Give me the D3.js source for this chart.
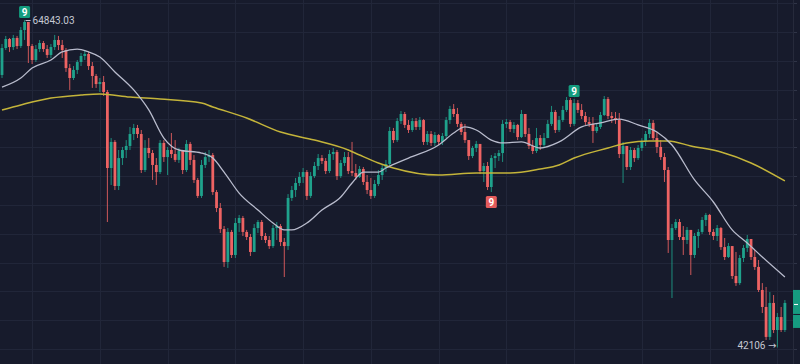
<!DOCTYPE html>
<html>
<head>
<meta charset="utf-8">
<script src="https://cdn.jsdelivr.net/npm/d3@7/dist/d3.min.js"></script>
<style>
  html, body { margin: 0; padding: 0; background: #171b2c; }
  svg { display: block; }
</style>
</head>
<body>
<svg id="chart" width="800" height="364"></svg>
<script>
// candle data (open of each candle = previous close)
let firstOpen = 61030;
let closes = [
  62900, 63530, 62970, 63600, 63040, 64150, 64710, 63040, 62070, 62830,
  63250, 62830, 62420, 62970, 63460, 63110, 62760, 61510, 60820, 61380,
  61930, 62350, 62490, 61650, 60960, 60400, 60540, 59850, 54570, 56380,
  53320, 55260, 55820, 56100, 56930, 57350, 56930, 54430, 55960, 55610,
  54780, 54290, 56310, 55330, 55820, 55540, 55130, 55750, 54430, 56240,
  55130, 53740, 52630, 54780, 55330, 55470, 52900, 51790, 50330, 48040,
  50130, 48530, 50750, 51100, 50130, 49780, 48740, 50400, 50820, 49850,
  49570, 49150, 50400, 50540, 49430, 49150, 52490, 53040, 53530, 53950,
  54290, 52630, 54010, 54710, 55260, 55060, 54360, 55540, 55680, 54010,
  54920, 55330, 54360, 54220, 53950, 54500, 53600, 53040, 52630, 53460,
  54080, 54570, 54850, 57140, 56510, 57830, 58320, 57560, 57210, 57830,
  57420, 57900, 56380, 56930, 56310, 56860, 56380, 56790, 57900, 58670,
  58320, 57630, 57070, 56510, 55400, 55960, 56240, 54360, 54710, 53250,
  55260, 55400, 55610, 57630, 57760, 57280, 57560, 56720, 58320, 56930,
  56100, 55750, 56650, 56170, 56650, 57630, 58460, 57210, 57900, 58600,
  59290, 57630, 59080, 58600, 58180, 57760, 57630, 57140, 57420, 58250,
  59360, 58180, 58040, 57900, 55540, 56100, 54640, 55820, 55260, 55960,
  56450, 56930, 57700, 56650, 56030, 55330, 54430, 49570, 50400, 50820,
  49780, 49570, 50270, 48530, 49850, 50130, 50960, 51310, 50130, 49850,
  50400, 49080, 48390, 49150, 47070, 46580, 48320, 49020, 49640, 48390,
  47700, 46100, 44920, 42840, 45200, 43320, 44220, 43320, 45200
];
let highs = [
  63180, 63740, 63600, 63810, 63740, 64360, 64843.03, 64570, 63180, 63110,
  63460, 63390, 63110, 63180, 63810, 63740, 63460, 62900, 61790, 61650,
  62070, 62560, 62760, 62630, 61930, 61100, 60820, 60960, 59990, 56650,
  56510, 55820, 56030, 56510, 57420, 57630, 57560, 57210, 56510, 56650,
  55820, 55260, 56510, 56510, 56030, 57000, 56510, 55960, 55680, 56510,
  56380, 55470, 53880, 55130, 55680, 55820, 55610, 53040, 52140, 50540,
  50400, 50270, 51100, 51310, 51240, 50270, 49990, 50680, 50960, 50960,
  50060, 49850, 50610, 50820, 50680, 49710, 52760, 53320, 53880, 54290,
  54570, 54430, 54290, 54990, 55540, 55470, 55260, 55820, 55960, 55820,
  55130, 55680, 55680, 56380, 54850, 54710, 54640, 54080, 53880, 53740,
  54430, 54780, 55130, 57420, 57350, 58040, 58530, 58460, 57900, 58040,
  58040, 58110, 57970, 57140, 57140, 57070, 56930, 57000, 58110, 58880,
  59010, 58740, 57760, 57630, 56510, 56100, 56450, 56240, 54920, 54990,
  55470, 55610, 55820, 57900, 57970, 57900, 57760, 57630, 58600, 58320,
  57350, 56510, 57350, 56860, 57000, 57900, 58880, 58600, 58180, 58880,
  59500, 59430, 59360, 59290, 59010, 58460, 58110, 58110, 57630, 58460,
  59570, 59500, 58460, 58460, 58390, 56380, 56100, 56030, 55960, 56170,
  56650, 57140, 57970, 57900, 57070, 56510, 55610, 54640, 50680, 51030,
  51030, 50540, 50470, 50130, 50060, 50330, 51170, 51450, 51380, 50330,
  50610, 50470, 49710, 49360, 49150, 48740, 48530, 49220, 49920, 49570,
  48880, 48180, 46580, 46310, 45960, 45750, 44500, 44920, 45400
];
let lows = [
  60820, 62760, 62630, 62760, 62830, 62900, 63460, 61860, 61790, 61930,
  62630, 62630, 62210, 62210, 62760, 62760, 62210, 61240, 59990, 60680,
  61100, 61650, 62070, 61380, 60130, 60130, 59850, 59570, 50820, 53390,
  53040, 53040, 54780, 55260, 55820, 56510, 56650, 54220, 54290, 55260,
  53740, 53390, 54150, 54990, 54080, 55260, 54990, 54920, 54150, 54290,
  54780, 53530, 52490, 52490, 54570, 54990, 52700, 51510, 50060, 47700,
  47630, 48320, 48320, 50130, 49850, 49570, 48460, 48740, 50060, 49570,
  49360, 48950, 49020, 49570, 49150, 47000, 48880, 52280, 52560, 53320,
  53530, 52350, 52490, 53880, 54430, 54850, 54150, 54220, 55130, 53740,
  53880, 54710, 54150, 54010, 53740, 53880, 53390, 52760, 52420, 52490,
  53320, 53740, 54290, 54640, 56310, 56380, 57630, 57350, 57000, 57070,
  57210, 57210, 56170, 56170, 56100, 56100, 56170, 56170, 56650, 57630,
  58110, 57420, 56860, 56310, 55130, 55260, 55680, 54150, 53600, 53040,
  52900, 54570, 55060, 54990, 57350, 57070, 57000, 56510, 56650, 56720,
  55890, 55540, 55610, 55820, 55960, 56650, 57490, 57000, 57070, 57760,
  58460, 57420, 57490, 58390, 57970, 57560, 57420, 56310, 57000, 57280,
  58180, 57970, 57700, 57630, 55260, 53530, 54430, 54430, 54990, 55130,
  55750, 56100, 56650, 56510, 55610, 55130, 53600, 48670, 45540, 50270,
  49570, 48530, 49290, 47140, 48320, 49020, 49990, 50540, 49920, 49570,
  49500, 48880, 48180, 48320, 46860, 46380, 46450, 48040, 48740, 48180,
  47490, 45960, 44500, 42630, 42630, 43110, 42106, 43180, 43180
];

// moving averages: [candle index, value]
let maFast = [
  [0, 60190], [5, 60820], [8, 61510], [13, 62070], [16, 62630], [20, 62830],
  [23, 62630], [26, 62280], [30, 61240], [35, 59990], [39, 58600], [43, 56650],
  [47, 55820], [53, 55610], [56, 55260], [59, 54290], [63, 52830], [68, 51650],
  [72, 50750], [75, 50270], [77, 50270], [81, 50750], [85, 51650], [90, 52560],
  [93, 53530], [96, 54290], [100, 54290], [102, 54570], [108, 55260], [116, 56170],
  [120, 57000], [123, 57420], [126, 57210], [130, 56510], [133, 56310], [138, 56380],
  [143, 55960], [148, 56380], [154, 57420], [159, 57700], [164, 57970], [169, 57560],
  [174, 57070], [178, 56170], [184, 53740], [189, 52210], [194, 50270], [198, 49360],
  [202, 48390], [208, 47000]
];
let maSlow = [
  [0, 58600], [5, 58950], [13, 59430], [21, 59640], [26, 59710], [34, 59500],
  [42, 59360], [53, 59080], [56, 58810], [65, 58040], [74, 57070], [83, 56510],
  [92, 55820], [95, 55470], [100, 54920], [104, 54570], [116, 54080], [126, 54220],
  [135, 54220], [143, 54500], [148, 54780], [152, 55260], [161, 55960], [166, 56310],
  [172, 56450], [177, 56450], [183, 56100], [191, 55680], [199, 54920], [208, 53670]
];

let highLabel = {i: 6, text: "64843.03"};
let lowLabel = {i: 206, text: "42106"};
let lastPrice = 45200;
let marks = [
  {i: 6, side: "up", text: "9"},
  {i: 152, side: "up", text: "9"},
  {i: 130, side: "down", text: "9"}
];

let svg = d3.select("#chart"),
    width = 800,
    height = 364,
    plotRight = 793;

let candles = closes.map(function (c, i) {
    let o = i === 0 ? firstOpen : closes[i - 1];
    return {
        i: i,
        open: o,
        close: c,
        high: Math.max(highs[i], o, c),
        low: Math.min(lows[i], o, c)
    };
});

let x = d3.scaleLinear().domain([0, closes.length - 1]).range([2, 784.9]);
let y = d3.scaleLinear().domain([40960, 66236]).range([height, 0]);

let upColor = "#1fa28c",
    downColor = "#ee6363";

svg.append("rect").attr("width", width).attr("height", height).attr("fill", "#171b2c");

// grid
let g = svg.append("g");
g.selectAll(".hgrid")
    .data(d3.range(42000, 66001, 2000))
    .enter().append("line")
    .attr("x1", 0).attr("x2", plotRight)
    .attr("y1", d => Math.round(y(d)) + 0.5)
    .attr("y2", d => Math.round(y(d)) + 0.5)
    .attr("stroke", "#212639").attr("stroke-width", 1);

g.selectAll(".vgrid")
    .data(d3.range(8, closes.length, 18))
    .enter().append("line")
    .attr("x1", d => Math.round(x(d)) + 0.5)
    .attr("x2", d => Math.round(x(d)) + 0.5)
    .attr("y1", 0).attr("y2", height)
    .attr("stroke", "#212639").attr("stroke-width", 1);

// candles
let cg = svg.append("g");
cg.selectAll(".wick")
    .data(candles)
    .enter().append("line")
    .attr("x1", d => x(d.i)).attr("x2", d => x(d.i))
    .attr("y1", d => y(d.high)).attr("y2", d => y(d.low))
    .attr("stroke", d => d.close >= d.open ? upColor : downColor)
    .attr("stroke-width", 1)
    .attr("opacity", 0.85);

cg.selectAll(".body")
    .data(candles)
    .enter().append("rect")
    .attr("x", d => x(d.i) - 1.4)
    .attr("width", 2.8)
    .attr("y", d => y(Math.max(d.open, d.close)))
    .attr("height", d => Math.max(1, Math.abs(y(d.open) - y(d.close))))
    .attr("fill", d => d.close >= d.open ? upColor : downColor);

// moving averages
let line = d3.line()
    .x(d => x(d[0]))
    .y(d => y(d[1]))
    .curve(d3.curveMonotoneX);

svg.append("path")
    .datum(maSlow)
    .attr("d", line)
    .attr("fill", "none")
    .attr("stroke", "#c4b43a")
    .attr("stroke-width", 1.5);

svg.append("path")
    .datum(maFast)
    .attr("d", line)
    .attr("fill", "none")
    .attr("stroke", "#b9bccd")
    .attr("stroke-width", 1.3);

// "9" markers
marks.forEach(function (m) {
    let c = candles[m.i];
    let cx = x(m.i);
    let top = m.side === "up" ? y(c.high) - 14 : y(c.low) + 4;
    svg.append("rect")
        .attr("x", cx - 5.5).attr("y", top)
        .attr("width", 11).attr("height", 12)
        .attr("rx", 1.5)
        .attr("fill", m.side === "up" ? "#139c7e" : "#e45b5b");
    svg.append("text")
        .attr("x", cx).attr("y", top + 10)
        .attr("text-anchor", "middle")
        .attr("font-family", "Roboto, 'DejaVu Sans', sans-serif")
        .attr("font-size", 10)
        .attr("font-weight", "bold")
        .attr("fill", "#ffffff")
        .text(m.text);
});

// high / low labels
let hx = x(highLabel.i), hy = y(candles[highLabel.i].high);
svg.append("line")
    .attr("x1", hx + 1).attr("x2", hx + 6)
    .attr("y1", hy + 0.5).attr("y2", hy + 0.5)
    .attr("stroke", "#c5c8d3").attr("stroke-width", 1);
svg.append("text")
    .attr("x", hx + 8).attr("y", hy + 4)
    .attr("font-family", "Roboto, 'DejaVu Sans', sans-serif")
    .attr("font-size", 10)
    .attr("fill", "#c5c8d3")
    .text(highLabel.text);

let lx = x(lowLabel.i), ly = y(candles[lowLabel.i].low);
svg.append("text")
    .attr("x", lx - 1).attr("y", ly + 2)
    .attr("text-anchor", "end")
    .attr("font-family", "Roboto, 'DejaVu Sans', sans-serif")
    .attr("font-size", 10)
    .attr("fill", "#c5c8d3")
    .text(lowLabel.text + " \u2192");

// price scale edge
svg.append("rect")
    .attr("x", plotRight).attr("y", 0)
    .attr("width", width - plotRight).attr("height", height)
    .attr("fill", "#171b2c");
svg.append("line")
    .attr("x1", plotRight + 0.5).attr("x2", plotRight + 0.5)
    .attr("y1", 0).attr("y2", height)
    .attr("stroke", "#262a3b");
svg.selectAll(".ptick")
    .data(d3.range(42000, 66001, 2000))
    .enter().append("line")
    .attr("x1", plotRight + 1).attr("x2", plotRight + 4)
    .attr("y1", d => Math.round(y(d)) + 0.5)
    .attr("y2", d => Math.round(y(d)) + 0.5)
    .attr("stroke", "#2f3447");

// last price label (cut off at the edge)
let lpy = y(lastPrice);
svg.append("rect")
    .attr("x", plotRight).attr("y", lpy - 13)
    .attr("width", width - plotRight).attr("height", 24)
    .attr("fill", "#169b80");
svg.append("rect")
    .attr("x", plotRight).attr("y", lpy + 12)
    .attr("width", width - plotRight).attr("height", 13)
    .attr("fill", "#169b80");
svg.append("line")
    .attr("x1", plotRight + 1).attr("x2", plotRight + 5)
    .attr("y1", lpy + 1.5).attr("y2", lpy + 1.5)
    .attr("stroke", "#ffffff");
</script>
</body>
</html>
